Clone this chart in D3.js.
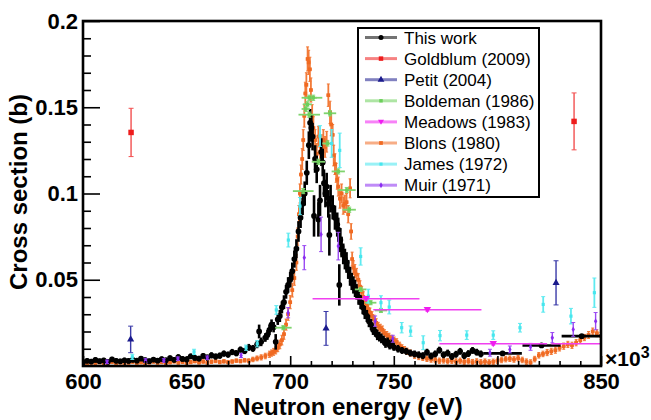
<!DOCTYPE html>
<html><head><meta charset="utf-8">
<script src="https://cdn.jsdelivr.net/npm/d3@7"></script>
<style>body{margin:0;background:#fff}svg{display:block}text{font-family:"Liberation Sans",Arial,Helvetica,sans-serif}</style>
</head><body><svg id="c" width="651" height="420"></svg>
<script>
// ---------------- DATA (energy in keV, cross section in b) ----------------
const xTicks = [600, 650, 700, 750, 800, 850];
const yTicks = [0.05, 0.1, 0.15, 0.2];
const seriesNames = ["This work","Goldblum (2009)","Petit (2004)","Boldeman (1986)","Meadows (1983)","Blons (1980)","James (1972)","Muir (1971)"];

// This work
const workE = [
 600,602,604,606,608,610,612,614,616,618,
 620,622,624,626,628,630,632,634,636,638,
 640,642,644,646,648,650,652,654,656,658,
 660,662,664,666,668,670,672,674,676,678,
 680,682,684,685,686,688,689,690,691,692,
 693,694,695,696,697,698,699,700,701,702,
 703,704,705,706,707,708,709,709.6,710.2,710.8,
 711.5,712,712.8,713.6,714.4,715,715.7,716.3,717,717.6,
 718.4,718.9,719.5,720.5,721.6,722.7,723.2,723.7,724.2,724.8,
 725.6,726.4,727.2,728,728.9,729.7,730.5,731.3,732,733,
 734,735,736,737,738,739,740,741,742,743,
 744,745,746,747,748,749,750,752,754,756,
 758,760,762,764,766,768,770,772,774,776,
 778,780,782,784,786,788,790,792];
const workXS = [
 0.0022,0.0030,0.0026,0.0035,0.0028,0.0032,0.0024,0.0038,0.0030,0.0027,
 0.0033,0.0029,0.0036,0.0031,0.0043,0.0034,0.0028,0.0037,0.0031,0.0040,
 0.0033,0.0045,0.0036,0.0052,0.0041,0.0038,0.0056,0.0047,0.0043,0.0058,
 0.0049,0.0062,0.0055,0.0060,0.0072,0.0066,0.0081,0.0074,0.0095,0.0087,
 0.0108,0.0102,0.0125,0.0200,0.0140,0.0165,0.0180,0.0210,0.0240,0.0225,
 0.0140,0.0270,0.0290,0.0340,0.0370,0.0430,0.0470,0.0500,0.0550,0.0620,
 0.0680,0.0780,0.0860,0.0940,0.1000,0.1120,0.1280,0.1410,0.1380,0.1330,
 0.0870,0.1200,0.1140,0.0850,0.0960,0.1240,0.1180,0.1060,0.1000,0.1040,
 0.0940,0.0760,0.0970,0.0920,0.0860,0.0820,0.0790,0.0470,0.0730,0.0690,
 0.0650,0.0620,0.0600,0.0560,0.0520,0.0490,0.0470,0.0450,0.0430,0.0400,
 0.0370,0.0340,0.0310,0.0290,0.0260,0.0240,0.0210,0.0200,0.0180,0.0170,
 0.0160,0.0150,0.0130,0.0140,0.0120,0.0130,0.0110,0.0100,0.0090,0.0085,
 0.0075,0.0070,0.0065,0.0060,0.0080,0.0058,0.0070,0.0092,0.0065,0.0075,
 0.0055,0.0068,0.0085,0.0060,0.0072,0.0090,0.0080,0.0070];
const workErr = [
 0.0015,0.0015,0.0015,0.0015,0.0015,0.0015,0.0015,0.0015,0.0015,0.0015,
 0.0015,0.0015,0.0015,0.0015,0.0015,0.0015,0.0015,0.0015,0.0015,0.0015,
 0.0016,0.0016,0.0016,0.0016,0.0016,0.0016,0.0016,0.0016,0.0016,0.0016,
 0.0018,0.0018,0.0018,0.0018,0.0018,0.0018,0.0018,0.0018,0.0018,0.0018,
 0.0020,0.0020,0.0022,0.0040,0.0025,0.0025,0.0028,0.0030,0.0030,0.0030,
 0.0045,0.0032,0.0035,0.0035,0.0040,0.0040,0.0045,0.0045,0.0050,0.0050,
 0.0055,0.0060,0.0060,0.0065,0.0070,0.0070,0.0080,0.0080,0.0080,0.0080,
 0.0120,0.0080,0.0080,0.0100,0.0090,0.0080,0.0080,0.0080,0.0080,0.0080,
 0.0080,0.0120,0.0080,0.0070,0.0070,0.0070,0.0070,0.0120,0.0070,0.0060,
 0.0060,0.0060,0.0060,0.0055,0.0055,0.0050,0.0050,0.0050,0.0045,0.0045,
 0.0040,0.0040,0.0038,0.0035,0.0035,0.0032,0.0030,0.0030,0.0030,0.0028,
 0.0028,0.0026,0.0025,0.0025,0.0024,0.0024,0.0022,0.0022,0.0020,0.0020,
 0.0020,0.0020,0.0020,0.0020,0.0020,0.0020,0.0020,0.0020,0.0020,0.0020,
 0.0020,0.0020,0.0020,0.0020,0.0020,0.0020,0.0020,0.0020];
// This work, wide bins
const workWideE = [802.5, 821.3, 840.7];
const workWideXS = [0.0073, 0.0119, 0.0173];
const workWideXErr = [9.3, 9.2, 9.7];
const workWideErr = [0.0010, 0.0010, 0.0010];

// Goldblum (2009)
const goldE = [623.2, 837.0];
const goldXS = [0.1354, 0.1418];
const goldErr = [0.0140, 0.0165];

// Petit (2004)
const petitE = [623.0, 717.3, 828.3];
const petitXS = [0.0154, 0.0218, 0.0482];
const petitErr = [0.0077, 0.0098, 0.0128];

// Boldeman (1986)
const boldE = [696.7, 706.3, 709.2, 711.1, 708.3, 707.5, 709.2, 719.2, 718.0, 713.6, 723.2, 727.3, 728.5, 734.0, 738.8, 743.8];
const boldXS = [0.0222, 0.1014, 0.1555, 0.1555, 0.1517, 0.1490, 0.1457, 0.1465, 0.1290, 0.1184, 0.1128, 0.1020, 0.0906, 0.0444, 0.0367, 0.0322];
const boldXErr = [4, 5, 3.7, 4.4, 2.2, 2, 5.2, 3, 2.5, 3.2, 3.2, 4.3, 3.2, 2.8, 2.8, 3];
const boldErr = [0.0012, 0.0015, 0.0015, 0.0015, 0.0015, 0.0015, 0.0015, 0.0015, 0.0015, 0.0015, 0.0015, 0.0015, 0.0015, 0.0012, 0.0012, 0.0012];

// Meadows (1983)
const meadE = [736.6, 766.2, 798.0, 852.0];
const meadXS = [0.0390, 0.0326, 0.0129, 0.0129];
const meadXErr = [25.8, 26.1, 26.0, 26.0];
const meadErr = [0.0008, 0.0008, 0.0008, 0.0008];

// Blons (1980)
const blonsE = [
 600,602,604,606,608,610,612,614,616,618,
 620,622,624,626,628,630,632,634,636,638,
 640,642,644,646,648,650,652,654,656,658,
 660,662,664,666,668,670,672,674,676,678,
 680,682,684,686,688,690,691,692,693,694,
 695,696,697,698,699,700,701,702,703,703.6,
 704.2,704.7,705.2,705.8,706.3,706.8,707.3,707.8,708.4,708.9,
 709.5,710,710.6,711.2,712,712.8,713.6,714.4,715.2,716,
 716.8,717.6,718.4,719.2,719.8,720.5,721,721.6,722.2,722.7,
 723.2,724,724.8,725.6,726.4,727.2,728,728.9,729.4,729.9,
 730.5,731.2,732,732.9,733.7,734.5,735.3,736.1,736.9,737.7,
 738.5,739.5,740.5,741.5,742.5,743.5,744.5,745.5,746.6,747.7,
 749,750.2,751.4,752.8,754,755.2,756.4,758,760,762,
 764,766,768,770,772,774,776,778,780,782,
 784,786,788,790,792,794,796,798,800,802,
 804,806,808,810,812,814,816,818,820,822,
 824,826,828,830,832,834,836,838,840,842,
 844,846,848,850];
const blonsXS = [
 0.0018,0.0012,0.0020,0.0016,0.0022,0.0014,0.0019,0.0024,0.0017,0.0021,
 0.0015,0.0020,0.0025,0.0018,0.0022,0.0016,0.0021,0.0026,0.0019,0.0023,
 0.0017,0.0022,0.0027,0.0020,0.0024,0.0019,0.0023,0.0028,0.0021,0.0026,
 0.0020,0.0025,0.0029,0.0023,0.0027,0.0022,0.0026,0.0031,0.0028,0.0033,
 0.0030,0.0038,0.0044,0.0050,0.0058,0.0068,0.0075,0.0082,0.0090,0.0105,
 0.0125,0.0150,0.0185,0.0240,0.0300,0.0370,0.0440,0.0510,0.0600,0.0750,
 0.0880,0.1000,0.1110,0.1200,0.1310,0.1450,0.1580,0.1630,0.1780,0.1760,
 0.1720,0.1600,0.1450,0.1380,0.1310,0.1230,0.1330,0.1240,0.1280,0.1310,
 0.1270,0.1300,0.1570,0.1470,0.1400,0.1340,0.1220,0.1170,0.1120,0.1080,
 0.1040,0.0970,0.1000,0.0930,0.0940,0.0950,0.0880,0.1030,0.0780,0.0620,
 0.0570,0.0550,0.0530,0.0500,0.0460,0.0430,0.0400,0.0370,0.0350,0.0330,
 0.0310,0.0290,0.0270,0.0250,0.0230,0.0220,0.0210,0.0190,0.0180,0.0170,
 0.0160,0.0150,0.0140,0.0120,0.0105,0.0095,0.0085,0.0075,0.0062,0.0055,
 0.0048,0.0042,0.0038,0.0035,0.0030,0.0033,0.0028,0.0031,0.0026,0.0030,
 0.0024,0.0028,0.0022,0.0026,0.0021,0.0025,0.0020,0.0024,0.0030,0.0035,
 0.0040,0.0042,0.0038,0.0045,0.0035,0.0025,0.0020,0.0040,0.0062,0.0070,
 0.0078,0.0085,0.0092,0.0105,0.0115,0.0125,0.0120,0.0135,0.0150,0.0165,
 0.0180,0.0200,0.0190,0.0175];
const blonsErr = [
 0.0010,0.0010,0.0010,0.0010,0.0010,0.0010,0.0010,0.0010,0.0010,0.0010,
 0.0010,0.0010,0.0010,0.0010,0.0010,0.0010,0.0010,0.0010,0.0010,0.0010,
 0.0010,0.0010,0.0010,0.0010,0.0010,0.0010,0.0010,0.0010,0.0010,0.0010,
 0.0010,0.0010,0.0010,0.0010,0.0010,0.0010,0.0010,0.0010,0.0010,0.0010,
 0.0012,0.0013,0.0014,0.0015,0.0016,0.0018,0.0018,0.0020,0.0020,0.0022,
 0.0025,0.0028,0.0030,0.0032,0.0035,0.0038,0.0040,0.0042,0.0045,0.0050,
 0.0050,0.0055,0.0055,0.0060,0.0060,0.0065,0.0065,0.0070,0.0070,0.0070,
 0.0070,0.0070,0.0065,0.0065,0.0060,0.0060,0.0060,0.0060,0.0060,0.0060,
 0.0060,0.0060,0.0065,0.0065,0.0065,0.0060,0.0060,0.0060,0.0055,0.0055,
 0.0055,0.0055,0.0055,0.0050,0.0050,0.0050,0.0050,0.0055,0.0045,0.0040,
 0.0040,0.0038,0.0036,0.0035,0.0034,0.0032,0.0030,0.0030,0.0028,0.0028,
 0.0026,0.0025,0.0025,0.0024,0.0023,0.0022,0.0022,0.0020,0.0020,0.0020,
 0.0018,0.0018,0.0018,0.0018,0.0018,0.0018,0.0018,0.0018,0.0018,0.0018,
 0.0016,0.0016,0.0016,0.0016,0.0016,0.0016,0.0016,0.0016,0.0016,0.0016,
 0.0016,0.0016,0.0016,0.0016,0.0016,0.0016,0.0016,0.0016,0.0016,0.0016,
 0.0016,0.0016,0.0016,0.0016,0.0016,0.0016,0.0016,0.0016,0.0016,0.0016,
 0.0018,0.0018,0.0018,0.0018,0.0018,0.0018,0.0018,0.0018,0.0018,0.0018,
 0.0020,0.0020,0.0020,0.0020];

// James (1972)
const jamesE = [623.8, 653.6, 678.7, 684.1, 693.3, 699.1, 704.7, 714.4, 720.0, 723.9, 734.0, 737.7, 743.8, 747.8, 753.8, 758.1, 764.2, 772.3, 785.2, 798.0, 810.9, 822.1, 835.5, 846.8];
const jamesXS = [0.0053, 0.0082, 0.0106, 0.0129, 0.0325, 0.0730, 0.0927, 0.1333, 0.1290, 0.1250, 0.0635, 0.0405, 0.0367, 0.0342, 0.0222, 0.0202, 0.0135, 0.0176, 0.0179, 0.0179, 0.0222, 0.0357, 0.0289, 0.0425];
const jamesErr = [0.0015, 0.0015, 0.0015, 0.0018, 0.0025, 0.0040, 0.0050, 0.0060, 0.0080, 0.0100, 0.0050, 0.0040, 0.0040, 0.0040, 0.0030, 0.0030, 0.0040, 0.0030, 0.0025, 0.0025, 0.0025, 0.0045, 0.0045, 0.0085];

// Muir (1971)
const muirE = [611.6, 630.2, 639.0, 645.8, 660.0, 676.3, 699.0, 706.8, 714.9, 723.2, 741.0, 749.5, 796.4, 806.0, 816.0, 826.5, 836.6, 847.4];
const muirXS = [0.0024, 0.0032, 0.0032, 0.0042, 0.0048, 0.0061, 0.0309, 0.0628, 0.0763, 0.0695, 0.0260, 0.0158, 0.0077, 0.0096, 0.0111, 0.0164, 0.0212, 0.0260];
const muirErr = [0.0010, 0.0010, 0.0010, 0.0010, 0.0010, 0.0012, 0.0030, 0.0070, 0.0100, 0.0080, 0.0030, 0.0020, 0.0020, 0.0020, 0.0020, 0.0030, 0.0040, 0.0050];

// ---------------- DRAWING ----------------
const L = 83, R = 601, T = 21, B = 366;
const svg = d3.select('#c');
const x = d3.scaleLinear().domain([600, 850]).range([L, R]);
const y = d3.scaleLinear().domain([0, 0.2]).range([B, T]);

svg.append('defs').append('clipPath').attr('id', 'clip')
  .append('rect').attr('x', L).attr('y', T).attr('width', R - L).attr('height', B - T);
const plot = svg.append('g').attr('clip-path', 'url(#clip)');

const triDown = {draw(ctx, size){const s=Math.sqrt(size)*0.62; ctx.moveTo(0,s); ctx.lineTo(-s*1.1,-s*0.8); ctx.lineTo(s*1.1,-s*0.8); ctx.closePath();}};

const styles = {
  work:  {color:'#000000', bar:'#000000', bw:2.6, cap:0,   sym:d3.symbolCircle,   size:26},
  gold:  {color:'#ee1c1c', bar:'#f25050', bw:1.4, cap:2.5, sym:d3.symbolSquare,   size:30},
  petit: {color:'#1a1a8c', bar:'#3a3aa8', bw:1.4, cap:2.5, sym:d3.symbolTriangle, size:22},
  bold:  {color:'#6ccf5a', bar:'#7fd46e', bw:1.8, cap:2,   sym:d3.symbolSquare,   size:12},
  mead:  {color:'#f01cf0', bar:'#f040f0', bw:1.4, cap:2,   sym:triDown,           size:30},
  blons: {color:'#f06a22', bar:'#f27a38', bw:1.8, cap:1.5, sym:d3.symbolSquare,   size:14, xe:0.8},
  james: {color:'#46e6ee', bar:'#5eeaf0', bw:1.8, cap:2,   sym:d3.symbolSquare,   size:10},
  muir:  {color:'#8a2cf0', bar:'#9a4af2', bw:1.4, cap:2,   sym:d3.symbolDiamond,  size:10}
};

function drawSeries(E, V, YE, XE, st) {
  const g = plot.append('g');
  E.forEach((e, i) => {
    const cx = x(e), cy = y(V[i]);
    if (YE) {
      const y1 = y(V[i] - YE[i]), y2 = y(V[i] + YE[i]);
      g.append('line').attr('x1', cx).attr('x2', cx).attr('y1', y1).attr('y2', y2)
        .attr('stroke', st.bar).attr('stroke-width', st.bw);
      if (st.cap) {
        [y1, y2].forEach(yy => g.append('line').attr('x1', cx - st.cap).attr('x2', cx + st.cap)
          .attr('y1', yy).attr('y2', yy).attr('stroke', st.bar).attr('stroke-width', 1));
      }
    }
    const xe = XE ? XE[i] : st.xe;
    if (xe) {
      g.append('line').attr('x1', x(e - xe)).attr('x2', x(e + xe)).attr('y1', cy).attr('y2', cy)
        .attr('stroke', st.bar).attr('stroke-width', st.bw);
    }
  });
  g.selectAll('path.m').data(E).join('path').attr('class', 'm')
    .attr('transform', (e, i) => `translate(${x(e)},${y(V[i])})`)
    .attr('d', d3.symbol().type(st.sym).size(st.size))
    .attr('fill', st.color);
}

drawSeries(blonsE, blonsXS, blonsErr, null, styles.blons);
drawSeries(workE, workXS, workErr, null, styles.work);
drawSeries(workWideE, workWideXS, workWideErr, workWideXErr, styles.work);
drawSeries(boldE, boldXS, boldErr, boldXErr, styles.bold);
drawSeries(jamesE, jamesXS, jamesErr, null, styles.james);
drawSeries(muirE, muirXS, muirErr, null, styles.muir);
drawSeries(meadE, meadXS, meadErr, meadXErr, styles.mead);
drawSeries(petitE, petitXS, petitErr, null, styles.petit);
drawSeries(goldE, goldXS, goldErr, null, styles.gold);

// ---- axes ----
const fmt = d => String(+d.toFixed(2));
const yMinor = d3.range(1, 20).map(i => i / 100).filter(v => Math.abs(v * 20 - Math.round(v * 20)) > 1e-6);
const xMinor = d3.range(610, 850, 10).filter(v => v % 50 !== 0);

const gy = svg.append('g').attr('transform', `translate(${L},0)`)
  .call(d3.axisLeft(y).tickValues(yTicks).tickSize(-17).tickPadding(5).tickFormat(fmt));
const gym = svg.append('g').attr('transform', `translate(${L},0)`)
  .call(d3.axisLeft(y).tickValues(yMinor).tickSize(-8).tickFormat(''));
const gx = svg.append('g').attr('transform', `translate(0,${B})`)
  .call(d3.axisBottom(x).tickValues(xTicks).tickSize(-10).tickPadding(7).tickFormat(d3.format('d')));
const gxm = svg.append('g').attr('transform', `translate(0,${B})`)
  .call(d3.axisBottom(x).tickValues(xMinor).tickSize(-5).tickFormat(''));
[gy, gym, gx, gxm].forEach(g => {
  g.select('.domain').remove();
  g.selectAll('.tick line').attr('stroke', '#000').attr('stroke-width', 1.6);
  g.selectAll('.tick text').attr('fill', '#000').style('font-size', '22px').style('font-weight', 'bold')
   .style('font-family', '"Liberation Sans", Arial, Helvetica, sans-serif');
});

// frame
svg.append('rect').attr('x', L).attr('y', T).attr('width', R - L).attr('height', B - T)
  .attr('fill', 'none').attr('stroke', '#000').attr('stroke-width', 2.6);

// exponent
const ex = svg.append('text').attr('x', 605).attr('y', 366)
  .style('font-size', '21px').style('font-weight', 'bold').text('×10');
ex.append('tspan').attr('dy', -8).style('font-size', '16px').text('3');

// axis titles
svg.append('text').attr('transform', 'translate(27,192) rotate(-90)').attr('text-anchor', 'middle')
  .style('font-size', '24px').style('font-weight', 'bold').text('Cross section (b)');
svg.append('text').attr('x', 348).attr('y', 415).attr('text-anchor', 'middle')
  .style('font-size', '24px').style('font-weight', 'bold').text('Neutron energy (eV)');

// ---- legend ----
const legKeys = ['work','gold','petit','bold','mead','blons','james','muir'];
const lg = svg.append('g');
lg.append('rect').attr('x', 358).attr('y', 28).attr('width', 181).attr('height', 169)
  .attr('fill', '#fff').attr('stroke', '#000').attr('stroke-width', 2);
seriesNames.forEach((name, i) => {
  const st = styles[legKeys[i]];
  const cy = 37.5 + i * 21.1;
  lg.append('line').attr('x1', 365).attr('x2', 397).attr('y1', cy).attr('y2', cy)
    .attr('stroke', st.color).attr('stroke-width', 3).attr('stroke-opacity', 0.55);
  lg.append('path').attr('transform', `translate(381,${cy})`)
    .attr('d', d3.symbol().type(st.sym).size(Math.min(st.size, 20))).attr('fill', st.color);
  lg.append('text').attr('x', 404).attr('y', cy).attr('dy', '0.36em')
    .style('font-size', '17px').attr('fill', '#000').text(name);
});
</script>
</body></html>
